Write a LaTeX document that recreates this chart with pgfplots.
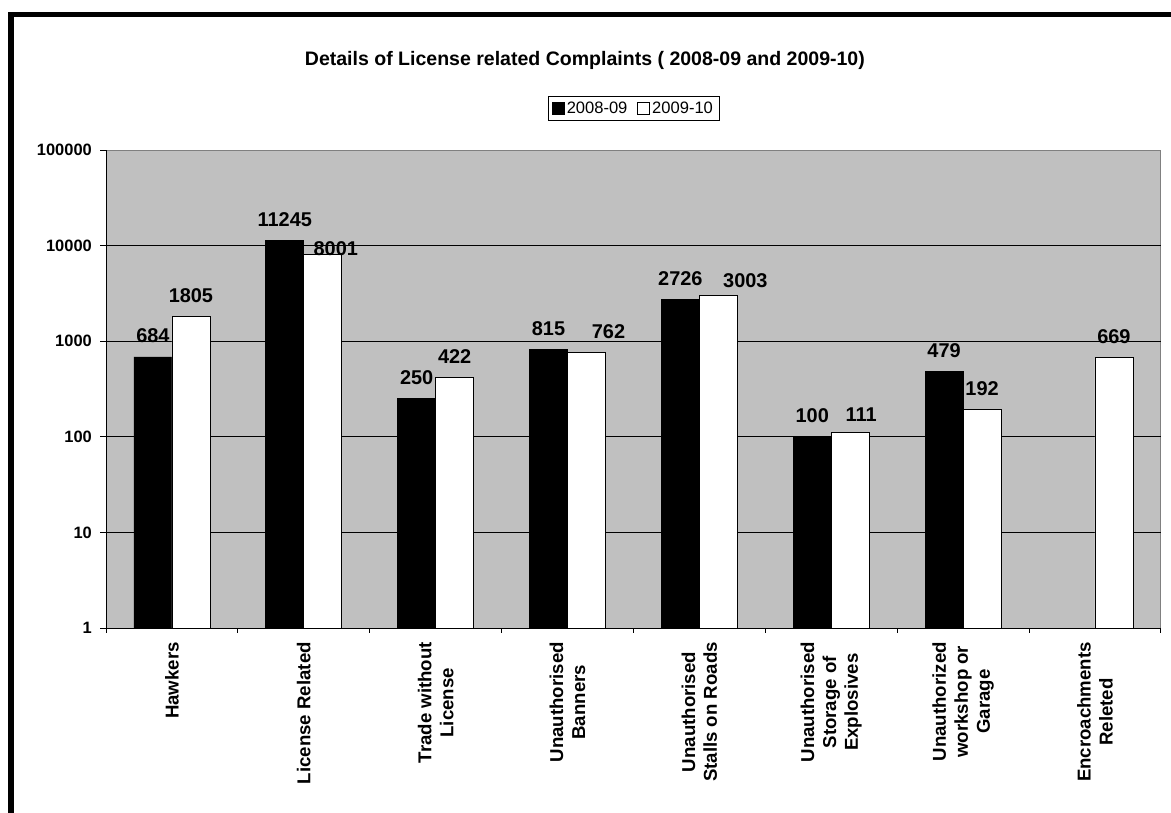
\documentclass[border=0pt]{standalone}
\usepackage{fontspec}
\setmainfont{Liberation Sans}
\usepackage{pgfplots}
\usepackage{pgfplotstable}
\pgfplotsset{compat=1.18}
\definecolor{plotbg}{RGB}{192,192,192}
\definecolor{frameg}{RGB}{128,128,128}
\pgfplotsset{
  sqlegend/.style={legend image code/.code={\draw[##1] (0bp,-5.5bp) rectangle (12bp,6.5bp);}},
}
% 2008-09
\pgfplotstableread{
x y dx dy
1 684 0 0
2 11245 0 0
3 250 0 0
4 815 0 0
5 2726 0 0
6 100 0 0
7 479 0 0
}\tblA
% 2009-10 (dx, dy: label offsets)
\pgfplotstableread{
x y dx dy
1 1805 0 0
2 8001 13 -14.5
3 422 0 0
4 762 22 0
5 3003 27 -6
6 111 11 -3
7 192 0 0
8 669 0 0
}\tblB
\begin{document}
\begin{tikzpicture}
\useasboundingbox (0,0) rectangle (1171bp,813bp);
\draw[line width=5.5bp, line join=miter] (11bp,-10bp) -- (11bp,798.5bp) -- (1190bp,798.5bp);
\begin{axis}[
  at={(106bp,185bp)}, anchor=south west,
  width=1055bp, height=478bp, scale only axis,
  ymode=log, ymin=1, ymax=100000, xmin=0.5, xmax=8.5,
  ybar=0pt, bar width=0.288,
  axis background/.style={fill=plotbg, draw=frameg, line width=0.8bp},
  axis x line*=bottom, axis y line*=left,
  axis line style={-, black, line width=0.8bp},
  tick align=outside,
  major tick length=6bp, minor tick length=5bp,
  tick style={black, line width=0.8bp},
  xtick={1,...,8},
  major x tick style={draw=none},
  minor xtick={0.5,1.5,...,8.5},
  xticklabels={Hawkers, License Related, Trade without\\License, Unauthorised\\Banners, Unauthorised\\Stalls on Roads, Unauthorised\\Storage of\\Explosives, Unauthorized\\workshop or\\Garage, Encroachments\\Releted},
  xticklabel style={font=\bfseries\fontsize{18.7}{22}\selectfont, yshift=-8bp, rotate=90, anchor=east, align=center, inner sep=0pt},
  ytick={1,10,100,1000,10000},
  yticklabels={1,10,100,1000,10000},
  extra y ticks={100000}, extra y tick labels={100000},
  extra y tick style={grid=none},
  yminorticks=false,
  yticklabel style={font=\bfseries\fontsize{16.5}{18}\selectfont, inner sep=0pt, xshift=-8bp},
  ymajorgrids, major grid style={black, line width=0.8bp},
  title={Details of License related Complaints ( 2008-09 and 2009-10)},
  title style={at={(0.454,1.165)}, anchor=base, font=\bfseries\fontsize{19.6}{22}\selectfont, inner sep=0pt},
  legend style={at={(0.5,1.0868)}, anchor=center, draw=black, line width=0.6bp, font=\fontsize{16.6}{18}\selectfont, legend columns=-1, inner xsep=4bp, inner ysep=3.5bp, /tikz/every even column/.append style={column sep=8bp}},
  legend cell align=left,
  point meta=explicit symbolic,
  visualization depends on={\thisrow{dx} \as \dx},
  visualization depends on={\thisrow{dy} \as \dy},
  nodes near coords,
  every node near coord/.append style={font=\bfseries\fontsize{20}{22}\selectfont, inner sep=0pt, anchor=south, black, xshift=\dx bp, yshift={(13.5+\dy)*1bp}},
]
\addplot[fill=black, draw=black, line width=0.8bp, bar shift=-0.144, sqlegend]
  table[x=x, y=y, meta=y] {\tblA};
\addplot[fill=white, draw=black, line width=0.8bp, bar shift=0.144, sqlegend]
  table[x=x, y=y, meta=y] {\tblB};
\legend{2008-09, 2009-10}
\end{axis}
\end{tikzpicture}
\end{document}
